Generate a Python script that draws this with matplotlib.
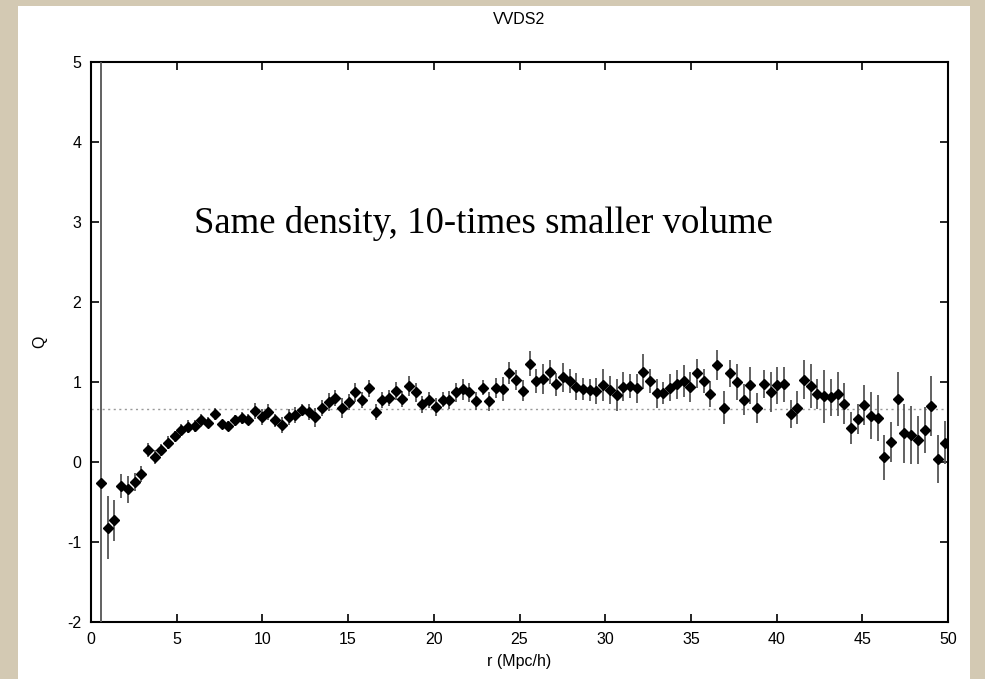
import numpy as np
import matplotlib
matplotlib.use("Agg")
import matplotlib.pyplot as plt
from matplotlib.patches import Rectangle

# bin centres in r (Mpc/h), 128 bins over 0-50, first bin empty
bin_index = np.arange(1, 128)
r = (bin_index + 0.5) * 50.0 / 128.0

q = [-0.26, -0.82, -0.73, -0.30, -0.34, -0.25, -0.15, 0.15, 0.06, 0.15,
     0.24, 0.32, 0.40, 0.44, 0.45, 0.52, 0.49, 0.60, 0.47, 0.45,
     0.52, 0.55, 0.53, 0.64, 0.56, 0.63, 0.52, 0.46, 0.56, 0.59,
     0.65, 0.63, 0.56, 0.67, 0.75, 0.80, 0.675, 0.75, 0.87, 0.77,
     0.92, 0.63, 0.77, 0.80, 0.89, 0.79, 0.95, 0.87, 0.72, 0.77,
     0.69, 0.78, 0.775, 0.87, 0.91, 0.87, 0.76, 0.93, 0.76, 0.925,
     0.91, 1.11, 1.03, 0.89, 1.23, 1.01, 1.04, 1.13, 0.97, 1.06,
     1.01, 0.94, 0.91, 0.90, 0.89, 0.96, 0.90, 0.84, 0.94, 0.95,
     0.92, 1.13, 1.01, 0.86, 0.86, 0.93, 0.97, 1.01, 0.94, 1.11,
     1.01, 0.85, 1.21, 0.68, 1.11, 1.00, 0.78, 0.96, 0.675, 0.975,
     0.875, 0.96, 0.97, 0.60, 0.68, 1.03, 0.95, 0.85, 0.82, 0.81,
     0.85, 0.73, 0.425, 0.54, 0.71, 0.58, 0.55, 0.06, 0.25, 0.79,
     0.36, 0.34, 0.27, 0.40, 0.70, 0.04, 0.24]

q_err = [10.0, 0.39, 0.26, 0.15, 0.17, 0.11, 0.10, 0.09, 0.09, 0.08,
         0.08, 0.07, 0.07, 0.08, 0.08, 0.08, 0.07, 0.07, 0.06, 0.06,
         0.07, 0.07, 0.07, 0.10, 0.10, 0.10, 0.08, 0.10, 0.10, 0.10,
         0.08, 0.10, 0.12, 0.10, 0.11, 0.10, 0.12, 0.10, 0.12, 0.10,
         0.11, 0.10, 0.10, 0.10, 0.11, 0.10, 0.12, 0.12, 0.11, 0.10,
         0.11, 0.09, 0.11, 0.12, 0.13, 0.12, 0.11, 0.09, 0.12, 0.12,
         0.15, 0.14, 0.125, 0.13, 0.16, 0.15, 0.19, 0.15, 0.14, 0.18,
         0.15, 0.17, 0.14, 0.14, 0.16, 0.20, 0.17, 0.20, 0.18, 0.15,
         0.18, 0.22, 0.15, 0.18, 0.14, 0.17, 0.18, 0.20, 0.19, 0.18,
         0.15, 0.16, 0.19, 0.21, 0.17, 0.22, 0.19, 0.23, 0.19, 0.17,
         0.25, 0.23, 0.22, 0.17, 0.21, 0.24, 0.27, 0.19, 0.33, 0.23,
         0.27, 0.26, 0.20, 0.19, 0.25, 0.29, 0.29, 0.28, 0.25, 0.34,
         0.37, 0.36, 0.30, 0.29, 0.38, 0.30, 0.27]

q_ref = 2.0 / 3.0

plt.rcParams['font.family'] = ['Liberation Sans', 'DejaVu Sans']
plt.rcParams['axes.unicode_minus'] = False

fig = plt.figure(figsize=(9.85, 6.79), dpi=100, facecolor='#d3c9b3')
fig.patches.append(Rectangle((18 / 985, 0), (970 - 18) / 985, (679 - 6) / 679,
                             transform=fig.transFigure, facecolor='white',
                             edgecolor='none', zorder=-10))

ax = fig.add_axes([91 / 985, 1 - 622 / 679, (948 - 91) / 985, (622 - 62) / 679])
ax.set_zorder(1)

ax.axhline(q_ref, color='#9a9a9a', lw=1.0, ls=(0, (1.5, 2.5)), zorder=1)
ax.errorbar(r, q, yerr=q_err, fmt='D', color='black', ms=5,
            ecolor='#555555', elinewidth=1.3, capsize=0, zorder=3)

ax.set_xlim(0, 50)
ax.set_ylim(-2, 5)
ax.set_xticks(range(0, 51, 5))
ax.set_yticks(range(-2, 6))

ax.tick_params(direction='in', length=6, width=1.2, top=True, right=True,
               labelsize=11.5, pad=7)
for s in ax.spines.values():
    s.set_linewidth(1.5)

ax.set_title('VVDS2', fontsize=11.5, pad=27)
ax.set_xlabel('r (Mpc/h)', fontsize=11.5, labelpad=5)
ax.set_ylabel('Q', fontsize=11.5, labelpad=14)

ax.text(6.0, 2.98, 'Same density, 10-times smaller volume', fontsize=26.5,
        family=['Liberation Serif', 'DejaVu Serif'], va='center', ha='left')

fig.savefig('out.png', dpi=100, facecolor=fig.get_facecolor())
